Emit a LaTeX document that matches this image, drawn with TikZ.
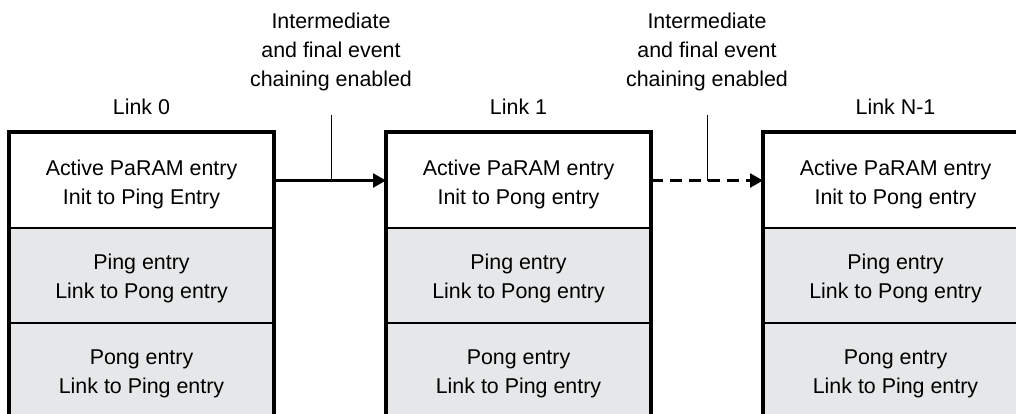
\documentclass[tikz,border=0pt]{standalone}
\usepackage{fontspec}
\setmainfont{Liberation Sans}
\usetikzlibrary{arrows.meta}
\definecolor{cellgray}{HTML}{E6E7E8}
\tikzset{
  txt/.style={font=\fontsize{21.4}{29}\selectfont, align=center, inner sep=0pt},
  cell/.style={draw=black, line width=2pt, minimum width=263pt, minimum height=95pt, inner sep=0pt},
  cellw/.style={cell, fill=white},
  cellg/.style={cell, fill=cellgray},
  outer/.style={line width=3.2pt},
  linkarrow/.style={line width=2.6pt, -{Triangle[length=13pt,width=14pt]}},
  thinline/.style={line width=1pt},
}
\begin{document}
\begin{tikzpicture}[x=1pt,y=-1pt]
\useasboundingbox (0,0) rectangle (1016,414);
\clip (0,0) rectangle (1016,414);
\foreach \i/\x/\first in {0/141.5/{Init to Ping Entry},1/518.5/{Init to Pong entry},2/895.5/{Init to Pong entry}}{
  \node[cellw] (a\i) at (\x,180.5) {};
  \node[cellg] (b\i) at (\x,275) {};
  \node[cellg] (c\i) at (\x,370) {};
  \node[txt] (ta\i) at ([yshift=-4pt]a\i.center) {Active PaRAM entry\\\first};
  \node[txt] (tb\i) at ([yshift=-3pt]b\i.center) {Ping entry\\Link to Pong entry};
  \node[txt] (tc\i) at ([yshift=-4pt]c\i.center) {Pong entry\\Link to Ping entry};
  \draw[outer] (c\i.south west) -- (a\i.north west) -- (a\i.north east) -- (c\i.south east);
}
\node[txt] (l0) at (141.5,106.5) {Link 0};
\node[txt] (l1) at (518.5,106.5) {Link 1};
\node[txt] (l2) at (895.5,106.5) {Link N-1};
\node[txt] (e1) at (331,51.5) {Intermediate\\and final event\\chaining enabled};
\node[txt] (e2) at (707,51.5) {Intermediate\\and final event\\chaining enabled};
\coordinate (t1) at (331,115);
\coordinate (t2) at (707,115);
\draw[linkarrow] (a0.east) -- (a1.west);
\draw[linkarrow, dash pattern=on 12pt off 7pt] (a1.east) -- (a2.west);
\draw[thinline] (t1) -- (t1 |- a0.east);
\draw[thinline] (t2) -- (t2 |- a1.east);
\end{tikzpicture}
\end{document}
